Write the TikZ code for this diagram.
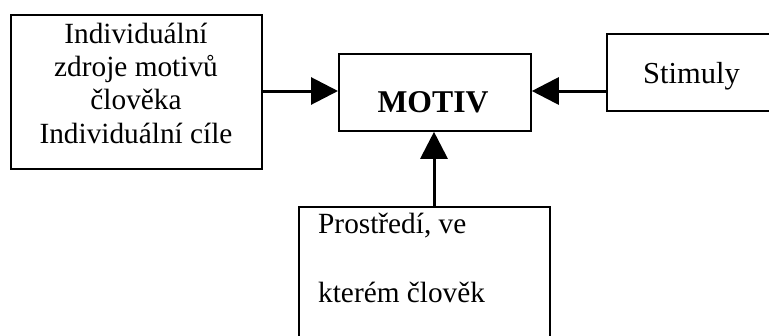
\documentclass[tikz,border=0pt]{standalone}
\usepackage{fontspec}
\setmainfont{Liberation Serif}
\usetikzlibrary{arrows.meta}
\tikzset{
  box/.style={draw=black, line width=1.8pt, fill=white, inner sep=0pt, anchor=north west},
  lbl/.style={inner sep=0pt, anchor=base, font=\fontsize{29.3}{33}\selectfont},
  lbll/.style={inner sep=0pt, anchor=base west, font=\fontsize{29.3}{33}\selectfont},
  conn/.style={line width=3pt, -{Triangle[length=27pt,width=27pt]}, shorten >=0pt}
}
\begin{document}
\begin{tikzpicture}[x=1pt,y=-1pt]
\useasboundingbox (0,0) rectangle (769,335);
\clip (0,0) rectangle (769,335);
% boxes
\node[box, minimum width=251pt, minimum height=154pt] (src) at (10,14) {};
\node[box, minimum width=192pt, minimum height=77pt] (motiv) at (338,53) {};
\node[box, minimum width=180pt, minimum height=77pt] (stim) at (606,33) {};
\node[box, minimum width=251pt, minimum height=160pt] (env) at (298,206) {};
% texts
\node[lbl] (t1) at (136,43) {Individuální};
\node[lbl] (t2) at (136,76) {zdroje motivů};
\node[lbl] (t3) at (136,109) {člověka};
\node[lbl] (t4) at (136,143) {Individuální cíle};
\node[inner sep=0pt, anchor=base, font=\fontsize{31.7}{36}\selectfont\bfseries] (tm) at (433,112) {MOTIV};
\node[lbll, font=\fontsize{30.5}{34}\selectfont] (ts) at (643,83) {Stimuly};
\node[lbll] (te1) at (318,233) {Prostředí, ve};
\node[lbll] (te2) at (318,302) {kterém člověk};
% connectors
\draw[conn] (src.east |- 0,91) -- (motiv.west |- 0,91);
\draw[conn] (stim.west |- 0,91) -- (motiv.east |- 0,91);
\draw[conn] (env.north -| 434,0) -- (motiv.south -| 434,0);
\end{tikzpicture}
\end{document}
